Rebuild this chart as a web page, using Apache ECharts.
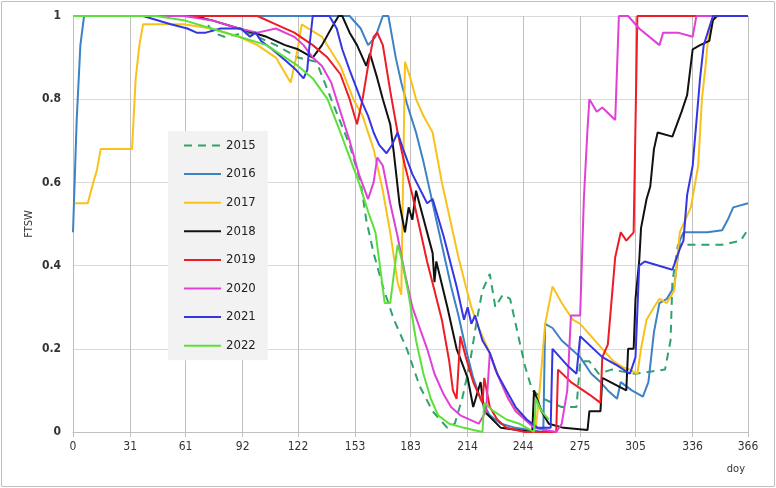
<!DOCTYPE html>
<html><head><meta charset="utf-8">
<script src="https://cdn.jsdelivr.net/npm/echarts@6/dist/echarts.min.js"></script>
<style>html,body{margin:0;padding:0;background:#fff}#c{width:776px;height:488px}</style>
</head><body><div id="c"></div>
<script>
const years = ['2015','2016','2017','2018','2019','2020','2021','2022'];
const xTicks = [0,31,61,92,122,153,183,214,244,275,305,336,366];

const d2015 = [[0,1],[70,1],[76,0.96],[82,0.95],[95,0.96],[110,0.93],[122,0.9],[132,0.89],[140,0.8],[150,0.69],[156,0.6],[159,0.51],[163,0.43],[168,0.35],[174,0.27],[181,0.2],[188,0.11],[195,0.05],[203,0.01],[207,0.02],[211,0.08],[215,0.16],[219,0.27],[222,0.34],[226,0.38],[229,0.3],[233,0.33],[237,0.32],[241,0.24],[245,0.16],[249,0.1],[255,0.08],[265,0.06],[273,0.06],[275,0.17],[280,0.17],[285,0.14],[292,0.15],[305,0.14],[321,0.15],[324,0.22],[325,0.36],[328,0.45],[340,0.45],[352,0.45],[362,0.46],[365,0.48]];
const d2016 = [[0,0.48],[2,0.75],[4,0.93],[6,1],[150,1],[156,0.97],[160,0.93],[164,0.95],[168,1.0],[171,1.0],[175,0.9],[178,0.84],[181,0.79],[186,0.72],[190,0.65],[194,0.57],[198,0.49],[202,0.41],[205,0.35],[209,0.28],[213,0.2],[217,0.13],[221,0.08],[226,0.04],[232,0.02],[240,0.01],[255,0.0],[256,0.26],[260,0.25],[265,0.22],[270,0.2],[275,0.18],[281,0.14],[286,0.12],[290,0.1],[295,0.08],[297,0.12],[303,0.1],[309,0.085],[312,0.12],[315,0.24],[318,0.31],[322,0.32],[326,0.35],[329,0.46],[331,0.48],[344,0.48],[352,0.485],[355,0.51],[358,0.54],[366,0.55]];
const d2017 = [[1,0.55],[8,0.55],[11,0.6],[13,0.63],[15,0.68],[32,0.68],[34,0.85],[36,0.93],[38,0.98],[60,0.98],[75,0.97],[90,0.95],[100,0.93],[110,0.9],[118,0.84],[121,0.9],[124,0.98],[135,0.95],[145,0.88],[152,0.8],[157,0.76],[163,0.68],[168,0.58],[172,0.48],[176,0.36],[178,0.33],[180,0.89],[183,0.85],[186,0.8],[190,0.76],[195,0.72],[200,0.6],[205,0.5],[209,0.42],[213,0.35],[216,0.3],[220,0.25],[226,0.19],[231,0.13],[236,0.08],[241,0.05],[246,0.03],[251,0.01],[253,0.1],[256,0.26],[260,0.35],[265,0.31],[271,0.27],[275,0.26],[281,0.23],[287,0.2],[293,0.17],[298,0.156],[302,0.15],[306,0.14],[308,0.2],[311,0.27],[315,0.3],[318,0.32],[322,0.31],[326,0.34],[329,0.48],[333,0.52],[335,0.54],[339,0.64],[341,0.8],[343,0.88],[344,0.93],[345,0.96],[347,0.99],[350,1],[366,1]];
const d2018 = [[0,1],[65,1],[75,0.99],[90,0.97],[105,0.95],[115,0.93],[122,0.92],[130,0.9],[135,0.93],[140,0.97],[144,1.0],[146,1.0],[150,0.96],[154,0.93],[159,0.88],[161,0.91],[165,0.85],[168,0.8],[172,0.74],[174,0.67],[177,0.55],[180,0.48],[182,0.54],[184,0.51],[186,0.58],[189,0.53],[195,0.43],[196,0.36],[197,0.41],[203,0.3],[208,0.2],[214,0.13],[217,0.06],[221,0.12],[223,0.05],[232,0.01],[249,0.0],[250,0.1],[254,0.05],[258,0.02],[266,0.01],[279,0.005],[280,0.05],[286,0.05],[287,0.13],[300,0.1],[301,0.2],[304,0.2],[305,0.32],[307,0.41],[308,0.49],[311,0.56],[313,0.59],[315,0.68],[317,0.72],[325,0.71],[330,0.77],[333,0.81],[336,0.92],[340,0.93],[345,0.94],[347,0.99],[349,1],[366,1]];
const d2019 = [[0,1],[100,1],[110,0.98],[120,0.96],[130,0.93],[138,0.9],[145,0.86],[150,0.8],[154,0.74],[157,0.8],[160,0.88],[163,0.95],[165,0.96],[168,0.93],[172,0.82],[176,0.72],[180,0.64],[184,0.57],[188,0.49],[192,0.41],[196,0.34],[200,0.27],[204,0.17],[206,0.1],[208,0.08],[210,0.23],[213,0.18],[217,0.12],[222,0.07],[223,0.13],[226,0.06],[230,0.03],[235,0.01],[245,0.0],[262,0.0],[263,0.15],[270,0.12],[280,0.09],[286,0.07],[287,0.18],[290,0.21],[294,0.42],[297,0.48],[300,0.46],[304,0.48],[306,1.0],[366,1.0]];
const d2020 = [[0,1],[60,1],[75,0.99],[90,0.97],[100,0.96],[110,0.97],[120,0.95],[125,0.93],[130,0.9],[135,0.88],[140,0.84],[145,0.77],[150,0.7],[155,0.62],[160,0.56],[163,0.6],[165,0.66],[168,0.64],[172,0.55],[176,0.47],[180,0.38],[184,0.3],[188,0.25],[192,0.2],[196,0.14],[201,0.09],[205,0.06],[210,0.04],[220,0.02],[224,0.05],[226,0.19],[229,0.15],[232,0.12],[236,0.08],[240,0.05],[245,0.03],[250,0.01],[262,0.0],[265,0.02],[268,0.1],[270,0.28],[275,0.28],[277,0.56],[279,0.73],[280,0.8],[284,0.77],[287,0.78],[294,0.75],[296,1.0],[301,1.0],[307,0.97],[318,0.93],[320,0.96],[328,0.96],[336,0.95],[338,1.0],[366,1.0]];
const d2021 = [[0,1],[38,1],[53,0.98],[62,0.97],[67,0.96],[72,0.96],[80,0.97],[91,0.97],[96,0.95],[99,0.96],[102,0.94],[108,0.92],[116,0.89],[121,0.87],[125,0.85],[127,0.87],[128,0.92],[130,1.0],[139,1.0],[143,0.97],[146,0.92],[150,0.87],[156,0.8],[160,0.76],[163,0.72],[166,0.69],[170,0.67],[173,0.69],[176,0.72],[179,0.68],[184,0.62],[192,0.55],[195,0.56],[201,0.47],[208,0.35],[212,0.27],[214,0.3],[216,0.26],[218,0.28],[222,0.22],[226,0.19],[230,0.14],[235,0.1],[240,0.06],[246,0.03],[252,0.01],[259,0.01],[260,0.2],[268,0.16],[273,0.14],[275,0.23],[287,0.18],[295,0.16],[302,0.14],[305,0.18],[307,0.4],[310,0.41],[325,0.39],[329,0.44],[331,0.46],[333,0.57],[336,0.64],[340,0.85],[342,0.93],[347,1.0],[366,1.0]];
const d2022 = [[0,1],[45,1],[60,0.99],[75,0.97],[90,0.95],[105,0.93],[122,0.88],[130,0.85],[138,0.8],[145,0.72],[150,0.66],[155,0.6],[160,0.53],[164,0.48],[167,0.38],[169,0.31],[172,0.31],[174,0.38],[176,0.45],[178,0.42],[182,0.33],[186,0.22],[190,0.14],[194,0.08],[198,0.04],[204,0.02],[212,0.01],[222,0.0],[223,0.07],[228,0.05],[235,0.03],[242,0.02],[250,0.0],[251,0.08],[254,0.05],[258,0.03]];

const seriesData = [d2015,d2016,d2017,d2018,d2019,d2020,d2021,d2022];
const colors = ['#2FA36B','#3C82C4','#F9C21A','#111111','#EE1C25','#E040D8','#3535E2','#5EE03A'];

const chart = echarts.init(document.getElementById('c'), null, {renderer:'canvas'});
const font = "'Liberation Sans Narrow','DejaVu Sans Condensed',sans-serif";
chart.setOption({
  animation:false,
  backgroundColor:'#fff',
  color: colors,
  graphic:[{type:'rect',shape:{x:1.5,y:1.5,width:773,height:485},style:{fill:'none',stroke:'#BFBFBF',lineWidth:1},silent:true}],
  grid:{left:73,right:28,top:16,bottom:56},
  legend:{
    orient:'vertical', left:168, top:131,
    backgroundColor:'#F2F2F2', padding:[8,12,8,15],
    itemWidth:37, itemHeight:14, itemGap:15.6,
    itemStyle:{opacity:0},
    textStyle:{fontSize:13,color:'#222',fontFamily:font},
    data: years
  },
  xAxis:{
    type:'value', min:0, max:366,
    name:'doy', nameLocation:'end', nameGap:0,
    nameTextStyle:{fontSize:11,color:'#333',fontFamily:font,align:'right',verticalAlign:'top',padding:[32,3,0,0]},
    axisLine:{show:true,lineStyle:{color:'#BFBFBF'}},
    axisTick:{show:true,customValues:xTicks,length:5,lineStyle:{color:'#BFBFBF'}},
    axisLabel:{customValues:xTicks,fontSize:12,color:'#333',fontFamily:font,margin:9},
    splitLine:{show:true,lineStyle:{color:'#BFBFBF',width:1}}
  },
  yAxis:{
    type:'value', min:0, max:1, interval:0.2,
    name:'FTSW', nameLocation:'middle', nameGap:38, nameRotate:90, nameMoveOverlap:false,
    nameTextStyle:{fontSize:11,color:'#333',fontFamily:font},
    axisLine:{show:false}, axisTick:{show:false},
    axisLabel:{fontSize:12,color:'#333',fontWeight:'bold',fontFamily:font,margin:12},
    splitLine:{show:true,lineStyle:{color:'#D9D9D9',width:1}}
  },
  series: years.map((y,i)=>({
    name:y, type:'line', data:seriesData[i], symbol:'none', showSymbol:false,
    z: 2+i,
    lineStyle:{width:2,color:colors[i],type: i===0?[8,6]:'solid'}
  }))
});
</script></body></html>
